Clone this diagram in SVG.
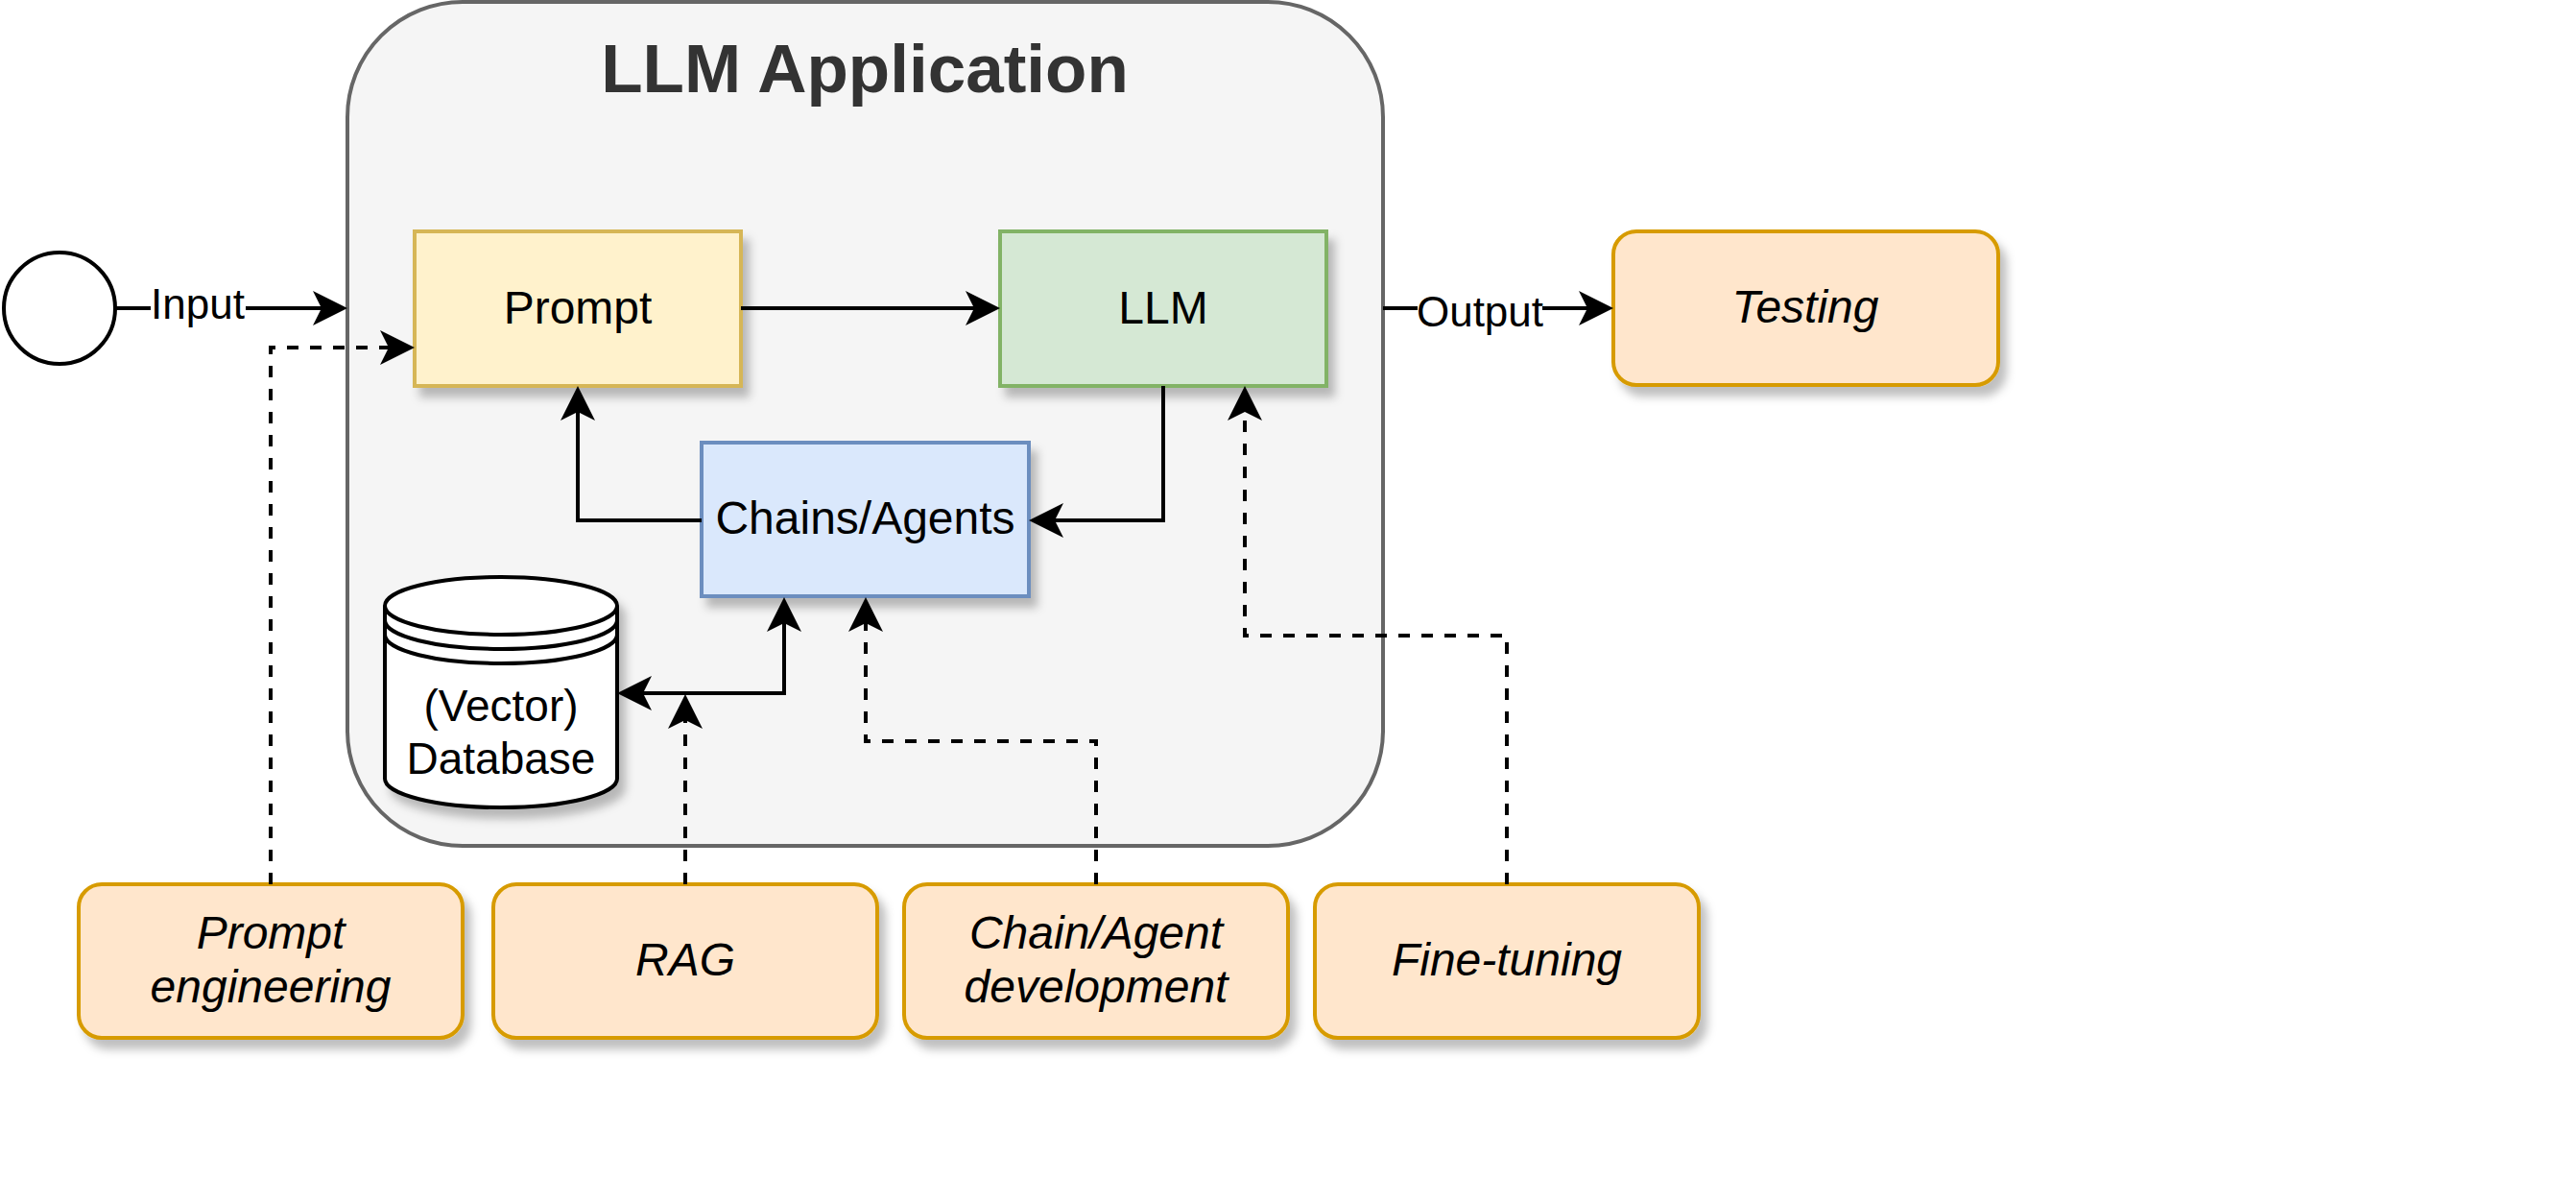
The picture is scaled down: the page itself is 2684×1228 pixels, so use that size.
<svg xmlns="http://www.w3.org/2000/svg" width="2684" height="1228" viewBox="0 0 2684 1228">
<defs>
<style>
text{font-family:"Liberation Sans",Arial,Helvetica,sans-serif;fill:#000;text-anchor:middle}
.node{font-size:48px}
.lbl{font-size:44px}
.db{font-size:46px}
.it{font-size:48px;font-style:italic}
.edge{fill:none;stroke:#000;stroke-width:4}
.dash{stroke-dasharray:12 12}
.orange{fill:#ffe6cc;stroke:#d79b00;stroke-width:4}
</style>
<filter id="sh" x="-10%" y="-10%" width="130%" height="140%">
<feDropShadow dx="7" dy="10" stdDeviation="5" flood-color="#000" flood-opacity="0.25"/>
</filter>
<marker id="arr" viewBox="0 0 36 36" refX="9" refY="18" markerWidth="36" markerHeight="36" markerUnits="userSpaceOnUse" orient="auto-start-reverse">
<path d="M36,18 L0,0 L9,18 L0,36 Z" fill="#000"/>
</marker>
</defs>
<rect width="2684" height="1228" fill="#fff"/>

<g id="container">
<rect x="362" y="2" width="1079" height="879" rx="120" ry="120" fill="#f5f5f5" stroke="#666" stroke-width="4"/>
<text x="901" y="96" style="font-size:71px;font-weight:bold;fill:#333">LLM Application</text>
</g>

<g id="input">
<circle cx="62" cy="321" r="58" fill="#fff" stroke="#000" stroke-width="4"/>
</g>

<g id="prompt">
<rect x="432" y="241" width="340" height="161" fill="#fff2cc" stroke="#d6b656" stroke-width="4" filter="url(#sh)"/>
<text class="node" x="602" y="337">Prompt</text>
</g>

<g id="llm">
<rect x="1042" y="241" width="340" height="161" fill="#d5e8d4" stroke="#82b366" stroke-width="4" filter="url(#sh)"/>
<text class="node" x="1212" y="337">LLM</text>
</g>

<g id="chains">
<rect x="731" y="461" width="341" height="160" fill="#dae8fc" stroke="#6c8ebf" stroke-width="4" filter="url(#sh)"/>
<text class="node" x="901.5" y="556">Chains/Agents</text>
</g>

<g id="database">
<path d="M401,631 A121,30 0 0 1 643,631 L643,811 A121,30 0 0 1 401,811 Z" fill="#fff" stroke="#000" stroke-width="4" filter="url(#sh)"/>
<path d="M401,631 A121,30 0 0 0 643,631 M401,646 A121,30 0 0 0 643,646 M401,661 A121,30 0 0 0 643,661" fill="none" stroke="#000" stroke-width="4"/>
<text class="db" x="522" y="751">(Vector)</text>
<text class="db" x="522" y="806">Database</text>
</g>

<g id="testing">
<rect x="1681" y="241" width="401" height="160" rx="24" class="orange" filter="url(#sh)"/>
<text class="it" x="1881" y="336">Testing</text>
</g>

<g id="prompt-engineering">
<rect x="82" y="921" width="400" height="160" rx="24" class="orange" filter="url(#sh)"/>
<text class="it" x="282" y="988">Prompt</text>
<text class="it" x="282" y="1044">engineering</text>
</g>

<g id="rag">
<rect x="514" y="921" width="400" height="160" rx="24" class="orange" filter="url(#sh)"/>
<text class="it" x="714" y="1016">RAG</text>
</g>

<g id="chain-agent-development">
<rect x="942" y="921" width="400" height="160" rx="24" class="orange" filter="url(#sh)"/>
<text class="it" x="1142" y="988">Chain/Agent</text>
<text class="it" x="1142" y="1044">development</text>
</g>

<g id="fine-tuning">
<rect x="1370" y="921" width="400" height="160" rx="24" class="orange" filter="url(#sh)"/>
<text class="it" x="1570" y="1016">Fine-tuning</text>
</g>

<g id="connectors">
<path class="edge" d="M120,321 H157"/>
<text class="lbl" x="206" y="332">Input</text>
<path class="edge" d="M256,321 H335" marker-end="url(#arr)"/>

<path class="edge" d="M1441,321 H1477"/>
<text class="lbl" x="1542" y="340">Output</text>
<path class="edge" d="M1607,321 H1654" marker-end="url(#arr)"/>

<path class="edge" d="M772,321 H1015" marker-end="url(#arr)"/>
<path class="edge" d="M1212,402 V542 H1099" marker-end="url(#arr)"/>
<path class="edge" d="M731,542 H602 V429" marker-end="url(#arr)"/>
<path class="edge" d="M670,722 H817 V649" marker-start="url(#arr)" marker-end="url(#arr)"/>

<path class="edge dash" d="M282,921 V362 H405" marker-end="url(#arr)"/>
<path class="edge dash" d="M714,921 V750" marker-end="url(#arr)"/>
<path class="edge dash" d="M1142,921 V772 H902 V649" marker-end="url(#arr)"/>
<path class="edge dash" d="M1570,921 V662 H1297 V429" marker-end="url(#arr)"/>
</g>
</svg>
